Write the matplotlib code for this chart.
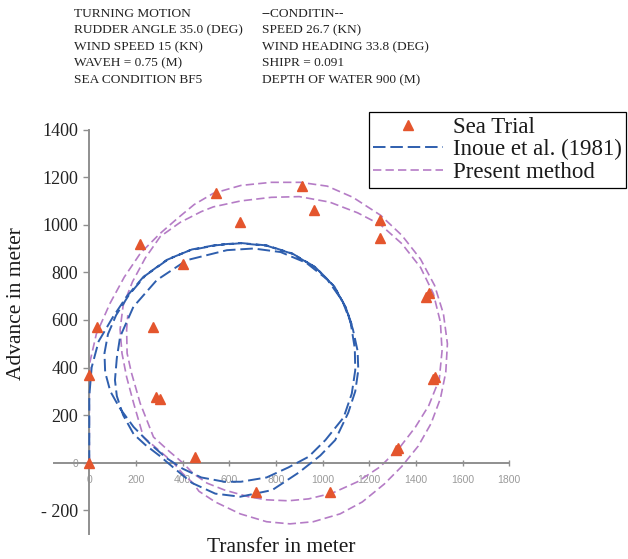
import matplotlib
matplotlib.use("Agg")
import matplotlib.pyplot as plt

plt.rcParams["lines.scale_dashes"] = False
SERIF = ["Liberation Serif", "DejaVu Serif"]
SANS = ["Liberation Sans", "DejaVu Sans"]

# Sea-trial turning test: transfer (x) and advance (y) in metres
trial_x = [0, 0, 32, 218, 401, 275, 288, 303, 647, 541, 911, 961, 1244, 1244,
           1445, 1458, 1472, 1482, 1315, 1322, 1033, 715, 451]
trial_y = [0, 370, 571, 919, 834, 569, 275, 268, 1013, 1132, 1163, 1062, 1020, 943,
           695, 712, 350, 362, 55, 63, -122, -125, 25]

# Simulated track, Inoue et al. (1981)
inoue_x = [0, 0, 0, 10, 40, 100, 160, 232, 332, 432, 547, 647, 760, 870, 970, 1050,
           1100, 1130, 1150, 1153, 1140, 1110, 1054, 990, 900, 784, 647, 540, 440,
           360, 300, 240, 190, 145, 118, 110, 118, 132, 189, 289, 418, 590, 704, 820,
           930, 1020, 1085, 1120, 1138, 1140, 1125, 1090, 1012, 940, 853, 760, 650,
           579, 480, 400, 330, 260, 190, 130, 90, 68, 65, 80, 115, 170, 240, 340, 440,
           550, 650, 760, 870, 970, 1050, 1100, 1125]
inoue_y = [0, 150, 280, 400, 510, 610, 698, 781, 852, 893, 914, 922, 912, 878, 820, 740,
           650, 560, 470, 389, 300, 210, 95, 30, -40, -115, -143, -130, -85,
           -20, 30, 75, 120, 200, 280, 347, 440, 529, 655, 767, 851, 893, 900, 885,
           840, 770, 680, 590, 480, 389, 290, 190, 95, 25, -20, -62, -80,
           -80, -62, -25, 20, 80, 150, 230, 300, 380, 460, 540, 620, 705, 786, 856, 896,
           916, 923, 913, 879, 821, 741, 651, 580]

# Simulated track, present method
present_x = [0, 0, 0, 2, 30, 89, 150, 219, 300, 376, 450, 532, 650, 780, 905, 1020,
             1130, 1248, 1340, 1420, 1480, 1518, 1535, 1528, 1505, 1465, 1410, 1340,
             1264, 1170, 1075, 960, 860, 760, 647, 540, 470, 445, 400, 360, 295, 232,
             190, 160, 140, 132, 145, 185, 240, 304, 390, 480, 532, 650, 780, 900,
             1030, 1150, 1248, 1340, 1420, 1475, 1505, 1512, 1500, 1455, 1398, 1333,
             1247, 1150, 1041, 940, 853, 760, 682, 580, 505, 445, 400, 340, 275, 218,
             180, 162, 160, 165]
present_y = [0, 150, 300, 420, 540, 670, 780, 880, 960, 1025, 1085, 1132, 1165, 1178,
             1178, 1162, 1115, 1040, 955, 855, 745, 625, 500, 380, 270, 165, 70, -15,
             -90, -165, -215, -248, -257, -248, -215, -165, -120, -86, -45, 0, 55, 108,
             250, 360, 460, 560, 660, 760, 860, 950, 1010, 1055, 1075, 1100, 1115, 1118,
             1095, 1050, 1000, 920, 820, 710, 590, 470, 350, 240, 150, 67,
             -17, -80, -128, -152, -160, -156, -143, -115, -86, -45, 0, 50, 108, 250,
             380, 460, 560, 620]

series_names = ["Sea Trial", "Inoue et al. (1981)", "Present method"]

x_ticks = [0, 200, 400, 600, 800, 1000, 1200, 1400, 1600, 1800]
y_ticks = [-200, 0, 200, 400, 600, 800, 1000, 1200, 1400]
y_tick_labels = ["- 200", "0", "200", "400", "600", "800", "1000", "1200", "1400"]

info_left = ["TURNING MOTION", "RUDDER ANGLE 35.0 (DEG)", "WIND SPEED 15 (KN)",
             "WAVEH = 0.75 (M)", "SEA CONDITION BF5"]
info_right = ["--CONDITIN--", "SPEED 26.7 (KN)", "WIND HEADING 33.8 (DEG)",
              "SHIPR = 0.091", "DEPTH OF WATER 900 (M)"]

W, H, DPI = 628, 559, 100
fig = plt.figure(figsize=(W / DPI, H / DPI), dpi=DPI)

# axes box in pixels: x 50..620, y 120..545 (from top)
ax = fig.add_axes([50 / W, (H - 545) / H, 570 / W, 425 / H])
ax.set_xlim((50 - 89.3) / 0.2333, (620 - 89.3) / 0.2333)
ax.set_ylim((462.7 - 545) / 0.238, (462.7 - 120) / 0.238)

blue = "#2f5fae"
purple = "#b57cc6"
red = "#e4552d"
grey = "#8f8f8f"

h_present, = ax.plot(present_x, present_y, color=purple, lw=1.2, dashes=(6, 3),
                     zorder=2, label=series_names[2])
h_inoue, = ax.plot(inoue_x, inoue_y, color=blue, lw=1.4, dashes=(9, 3.5), zorder=3,
                   label=series_names[1])
h_trial, = ax.plot(trial_x, trial_y, linestyle="none", marker="^", ms=7.5,
                   color=red, mec=red, zorder=4, label=series_names[0])

for side in ("top", "right"):
    ax.spines[side].set_visible(False)
ax.spines["left"].set_position(("data", 0))
ax.spines["bottom"].set_position(("data", 0))
ax.spines["left"].set_bounds(-300, 1400)
ax.spines["bottom"].set_bounds(-150, 1800)
for side in ("left", "bottom"):
    ax.spines[side].set_color(grey)
    ax.spines[side].set_linewidth(1.4)
ax.set_facecolor("none")

ax.set_xticks(x_ticks)
ax.set_xticklabels([str(v) for v in x_ticks])
ax.tick_params(axis="x", direction="inout", length=5, width=1, color=grey,
               labelsize=7.5, labelcolor="#9a9a9a", pad=6)
for t in ax.get_xticklabels():
    t.set_fontfamily(SANS)

ax.set_yticks(y_ticks)
ax.set_yticklabels(y_tick_labels)
ax.tick_params(axis="y", direction="out", length=4, width=1, color=grey,
               labelsize=13, pad=4)
for t, lab in zip(ax.get_yticklabels(), y_tick_labels):
    if lab == "0":
        t.set_fontfamily(SANS)
        t.set_fontsize(7.5)
        t.set_color("#9a9a9a")
    else:
        t.set_fontfamily(SERIF)
        t.set_color("#222222")

leg = ax.legend(handles=[h_trial, h_inoue, h_present], labels=series_names,
                loc="upper right", bbox_to_anchor=(626 / W, 1 - 112 / H),
                bbox_transform=fig.transFigure, frameon=True, fancybox=False,
                edgecolor="black", framealpha=1, borderpad=0.2,
                labelspacing=0.07, handlelength=3.05, handletextpad=0.4,
                borderaxespad=0, prop={"family": SERIF, "size": 16.5})
leg.get_frame().set_linewidth(0.9)
for txt in leg.get_texts():
    txt.set_color("#1a1a1a")

fig.text(17 / W, 1 - 304 / H, "Advance in meter", rotation=90, ha="center",
         va="center", family=SERIF, fontsize=15.5, color="#1a1a1a")
fig.text(281 / W, 1 - 548 / H, "Transfer in meter", ha="center", va="center",
         family=SERIF, fontsize=15.5, color="#1a1a1a")

rows = [14, 30.5, 47, 63.5, 80]
for yy, a, b in zip(rows, info_left, info_right):
    fig.text(74 / W, 1 - yy / H, a, ha="left", va="center", family=SERIF,
             fontsize=9.6, color="#222222")
    fig.text(262 / W, 1 - yy / H, b, ha="left", va="center", family=SERIF,
             fontsize=9.6, color="#222222")

fig.savefig("out.png", dpi=DPI)
